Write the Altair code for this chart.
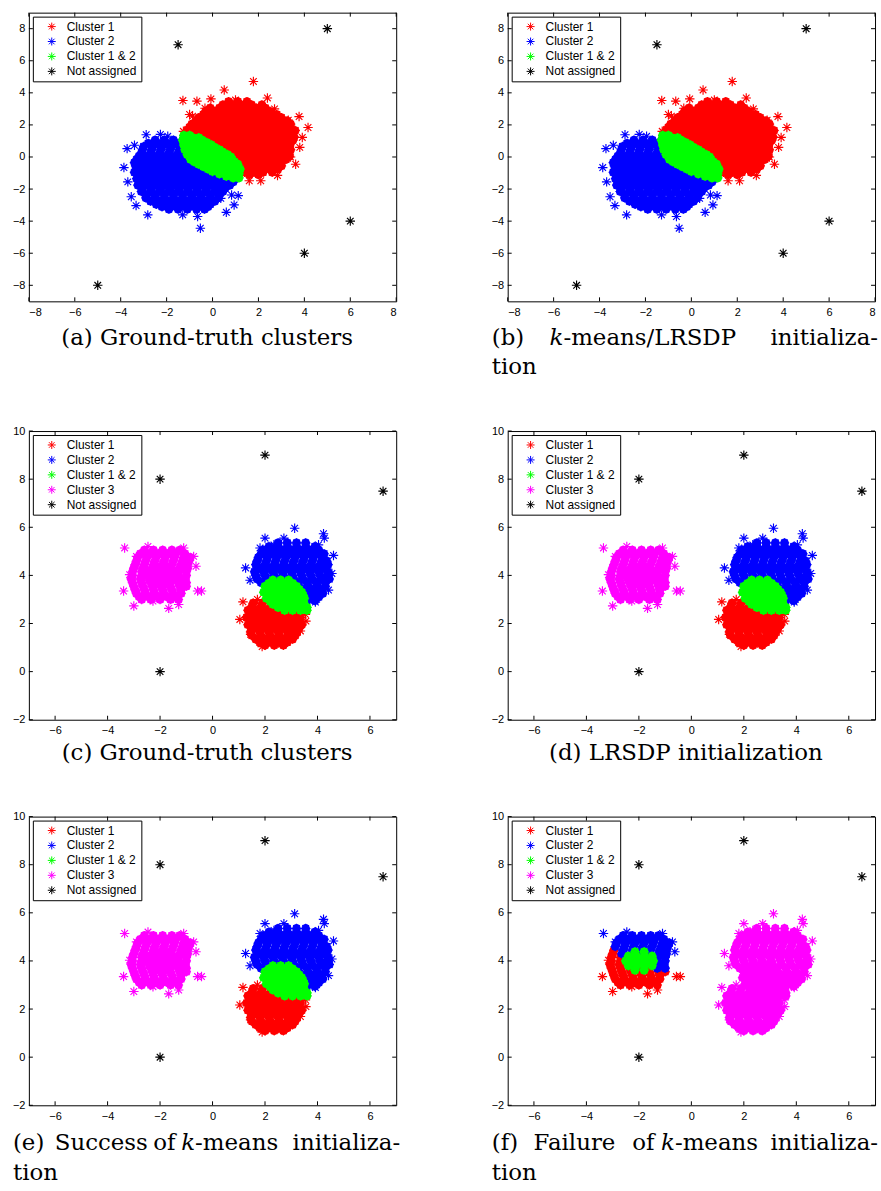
import altair as alt
import pandas as pd

# ---------------- data ----------------
# Panels (a)/(b): rows of (y, [x ...]) for the dense cores, plus outliers
A_RED_ROWS = [
    (3.45, [0.7, 1.1, 1.5]),
    (3.25, [0.45, 0.85, 1.25, 1.7, 2.15]),
    (3.05, [-0.1, 0.3, 0.7, 1.1, 1.5, 1.9, 2.3]),
    (2.85, [-0.3, 0.1, 0.5, 0.9, 1.3, 1.7, 2.1, 2.5]),
    (2.65, [-0.4, 0.0, 0.4, 0.8, 1.2, 1.6, 2.0, 2.4, 2.8]),
    (2.45, [-0.6, -0.2, 0.2, 0.6, 1.0, 1.4, 1.8, 2.2, 2.6, 3.0]),
    (2.25, [-0.7, -0.3, 0.1, 0.5, 0.9, 1.3, 1.7, 2.1, 2.5, 2.9, 3.25]),
    (2.05, [-0.9, -0.5, -0.1, 0.3, 0.7, 1.1, 1.5, 1.9, 2.3, 2.7, 3.1, 3.4]),
    (1.85, [-1.0, -0.6, -0.2, 0.2, 0.6, 1.0, 1.4, 1.8, 2.2, 2.6, 3.0, 3.4]),
    (1.65, [-1.1, -0.7, -0.3, 0.1, 0.5, 0.9, 1.3, 1.7, 2.1, 2.5, 2.9, 3.3, 3.6]),
    (1.45, [-0.9, -0.5, -0.1, 0.3, 0.7, 1.1, 1.5, 1.9, 2.3, 2.7, 3.1, 3.45]),
    (1.25, [-0.7, -0.3, 0.1, 0.5, 0.9, 1.3, 1.7, 2.1, 2.5, 2.9, 3.3, 3.55]),
    (1.05, [-0.4, 0.0, 0.4, 0.8, 1.2, 1.6, 2.0, 2.4, 2.8, 3.2, 3.5]),
    (0.85, [-0.2, 0.2, 0.6, 1.0, 1.4, 1.8, 2.2, 2.6, 3.0, 3.4]),
    (0.65, [0.0, 0.4, 0.8, 1.2, 1.6, 2.0, 2.4, 2.8, 3.2]),
    (0.45, [0.3, 0.7, 1.1, 1.5, 1.9, 2.3, 2.7, 3.1, 3.4]),
    (0.25, [0.5, 0.9, 1.3, 1.7, 2.1, 2.5, 2.9, 3.25]),
    (0.05, [0.7, 1.1, 1.5, 1.9, 2.3, 2.7, 3.1, 3.35]),
    (-0.15, [0.8, 1.2, 1.6, 2.0, 2.4, 2.8, 3.2]),
    (-0.35, [1.0, 1.4, 1.8, 2.2, 2.6, 3.0]),
    (-0.55, [1.1, 1.5, 1.9, 2.3, 2.7, 3.0]),
    (-0.75, [1.3, 1.7, 2.1, 2.5, 2.85]),
    (-0.95, [1.4, 1.8, 2.2, 2.6]),
    (-1.1, [1.6, 2.0]),
]
A_RED_OUT = [(1.78, 4.71), (0.51, 4.18), (-1.29, 3.52), (-0.68, 3.48), (-0.07, 3.62),
             (2.39, 3.68), (-1.0, 2.65), (-0.87, 2.55), (3.77, 2.52), (4.16, 1.84),
             (3.91, 1.22), (3.8, 0.6), (3.62, -0.45), (2.83, -1.15), (2.1, -1.48),
             (1.6, -1.48), (3.4, 0.0), (-1.27, 1.6), (-1.08, 1.72), (-0.33, 3.04),
             (3.3, 2.3), (2.7, 3.0), (1.0, 3.55)]
A_BLUE_ROWS = [
    (1.05, [-2.5, -2.1, -1.7, -1.3, -0.95]),
    (0.85, [-2.8, -2.4, -2.0, -1.6, -1.2, -0.85]),
    (0.65, [-3.0, -2.6, -2.2, -1.8, -1.4, -1.0]),
    (0.45, [-3.05, -2.65, -2.25, -1.85, -1.45, -1.05, -0.8]),
    (0.25, [-3.1, -2.7, -2.3, -1.9, -1.5, -1.1, -0.7]),
    (0.05, [-3.2, -2.8, -2.4, -2.0, -1.6, -1.2, -0.8, -0.45]),
    (-0.15, [-3.3, -2.9, -2.5, -2.1, -1.7, -1.3, -0.9, -0.5]),
    (-0.35, [-3.4, -3.1, -2.7, -2.3, -1.9, -1.5, -1.1, -0.7, -0.3, 0.0]),
    (-0.55, [-3.35, -2.95, -2.55, -2.15, -1.75, -1.35, -0.95, -0.55, -0.15]),
    (-0.75, [-3.2, -2.8, -2.4, -2.0, -1.6, -1.2, -0.8, -0.4, 0.0, 0.35]),
    (-0.95, [-3.4, -3.0, -2.6, -2.2, -1.8, -1.4, -1.0, -0.6, -0.2, 0.2, 0.55]),
    (-1.15, [-3.2, -2.8, -2.4, -2.0, -1.6, -1.2, -0.8, -0.4, 0.0, 0.4, 0.8]),
    (-1.35, [-3.3, -2.9, -2.5, -2.1, -1.7, -1.3, -0.9, -0.5, -0.1, 0.3, 0.7, 1.0]),
    (-1.55, [-3.1, -2.7, -2.3, -1.9, -1.5, -1.1, -0.7, -0.3, 0.1, 0.5, 0.9]),
    (-1.75, [-3.25, -2.85, -2.45, -2.05, -1.65, -1.25, -0.85, -0.45, -0.05, 0.35, 0.75]),
    (-1.95, [-3.05, -2.65, -2.25, -1.85, -1.45, -1.05, -0.65, -0.25, 0.15, 0.55]),
    (-2.15, [-3.1, -2.7, -2.3, -1.9, -1.5, -1.1, -0.7, -0.3, 0.1, 0.45]),
    (-2.35, [-2.9, -2.5, -2.1, -1.7, -1.3, -0.9, -0.5, -0.1, 0.3]),
    (-2.55, [-2.9, -2.5, -2.1, -1.7, -1.3, -0.9, -0.5, -0.1, 0.25]),
    (-2.75, [-2.7, -2.3, -1.9, -1.5, -1.1, -0.7, -0.3, 0.1]),
    (-2.95, [-2.45, -2.05, -1.65, -1.25, -0.85, -0.45, -0.1]),
    (-3.1, [-2.2, -1.8, -1.4, -1.0, -0.6, -0.2]),
    (-3.25, [-1.9, -1.5, -1.1, -0.7, -0.35]),
]
A_BLUE_OUT = [(-2.89, 1.39), (-2.27, 1.41), (-1.95, 1.29), (-3.72, 0.52), (-3.4, 0.73),
              (-3.86, -0.66), (-3.69, -1.55), (-3.54, -2.48), (-3.33, -3.03), (-2.82, -3.61),
              (-1.3, -3.61), (-0.65, -3.71), (-0.53, -4.44), (0.6, -3.45), (0.83, -2.37),
              (1.12, -2.41), (0.94, -2.99), (0.36, -2.58), (-3.1, -0.31)]
A_GREEN_ROWS = [
    (1.35, [-1.25, -1.0]),
    (1.2, [-1.15, -0.85, -0.6]),
    (1.05, [-1.3, -1.0, -0.7, -0.45]),
    (0.9, [-1.1, -0.8, -0.5, -0.25]),
    (0.75, [-1.25, -0.95, -0.65, -0.35, -0.05]),
    (0.6, [-1.1, -0.8, -0.5, -0.2, 0.1]),
    (0.45, [-1.2, -0.9, -0.6, -0.3, 0.0, 0.3]),
    (0.3, [-1.05, -0.75, -0.45, -0.15, 0.15, 0.45]),
    (0.15, [-1.1, -0.8, -0.5, -0.2, 0.1, 0.4, 0.65]),
    (0.0, [-0.85, -0.55, -0.25, 0.05, 0.35, 0.6, 0.8]),
    (-0.15, [-0.95, -0.65, -0.35, -0.05, 0.25, 0.55, 0.85]),
    (-0.3, [-0.8, -0.5, -0.2, 0.1, 0.4, 0.7, 0.95]),
    (-0.45, [-0.6, -0.3, 0.0, 0.3, 0.6, 0.9, 1.1]),
    (-0.6, [-0.4, -0.1, 0.2, 0.5, 0.8, 1.05]),
    (-0.75, [-0.2, 0.1, 0.4, 0.7, 1.0, 1.2]),
    (-0.9, [0.0, 0.3, 0.6, 0.9, 1.15]),
    (-1.05, [0.3, 0.6, 0.9, 1.15]),
    (-1.2, [0.6, 0.9, 1.1]),
    (-1.3, [0.9, 1.15]),
]
A_BLACK = [(-1.5, 7), (5, 8), (6, -4), (4, -6), (-5, -8)]

# Panels (c)-(f): left cluster (upper / lower / core parts)
L_UP_ROWS = [
    (5.05, [-2.6, -2.25, -1.9, -1.55, -1.25]),
    (4.9, [-2.75, -2.4, -2.05, -1.7, -1.4, -1.05]),
    (4.75, [-2.85, -2.5, -2.15, -1.8, -1.45, -1.1, -0.85]),
    (4.6, [-2.9, -2.55, -2.2, -1.85, -1.5, -1.15, -0.9]),
    (4.45, [-2.6, -2.25, -1.9, -1.55, -1.2, -0.95]),
    (4.3, [-2.65, -2.3, -1.95, -1.6, -1.25, -0.95]),
    (4.15, [-1.3, -1.0]),
    (4.0, [-1.3, -1.0]),
    (3.85, [-1.35, -1.05]),
    (3.7, [-1.3, -1.0]),
]
L_UP_OUT = [(-3.35, 5.14), (-2.46, 5.2), (-1.1, 5.14), (-0.72, 4.79), (-0.63, 4.38), (-2.9, 4.79)]
L_LOW_ROWS = [
    (4.45, [-2.95]),
    (4.3, [-3.0]),
    (4.15, [-3.05, -2.7, -2.35, -2.0, -1.65]),
    (4.0, [-3.05, -2.7, -2.35, -2.0, -1.65]),
    (3.85, [-3.1, -2.75, -2.4, -2.05, -1.7]),
    (3.7, [-3.05, -2.7, -2.35, -2.0, -1.65]),
    (3.55, [-3.0, -2.65, -2.3, -1.95, -1.6, -1.25, -1.0]),
    (3.4, [-2.95, -2.6, -2.25, -1.9, -1.55, -1.2]),
    (3.25, [-2.9, -2.55, -2.2, -1.85, -1.5, -1.2]),
    (3.12, [-2.8, -2.45, -2.1, -1.75, -1.4]),
    (3.0, [-2.7, -2.35, -2.0, -1.6, -1.3]),
]
L_LOW_OUT = [(-3.39, 3.35), (-3.0, 2.73), (-2.27, 2.93), (-1.67, 2.63), (-1.29, 2.79),
             (-0.57, 3.35), (-0.42, 3.35), (-3.16, 4.03)]
L_CORE_ROWS = [
    (4.38, [-2.15, -1.8]),
    (4.2, [-2.4, -2.1, -1.8, -1.5]),
    (4.0, [-2.5, -2.2, -1.95, -1.7, -1.45]),
    (3.8, [-2.4, -2.1, -1.8, -1.5]),
    (3.62, [-2.15, -1.8]),
]
# right clusters
C_BLUE_ROWS = [
    (5.35, [2.5, 2.85, 3.2, 3.55]),
    (5.2, [2.15, 2.5, 2.85, 3.2, 3.55, 3.9]),
    (5.05, [1.95, 2.3, 2.65, 3.0, 3.35, 3.7, 4.05]),
    (4.9, [1.85, 2.2, 2.55, 2.9, 3.25, 3.6, 3.95, 4.25]),
    (4.75, [1.75, 2.1, 2.45, 2.8, 3.15, 3.5, 3.85, 4.2]),
    (4.6, [1.7, 2.05, 2.4, 2.75, 3.1, 3.45, 3.8, 4.15, 4.35]),
    (4.45, [1.65, 2.0, 2.35, 2.7, 3.05, 3.4, 3.75, 4.1, 4.4]),
    (4.3, [1.8, 2.15, 2.5, 2.85, 3.2, 3.55, 3.9, 4.25]),
    (4.15, [1.6, 1.95, 2.3, 2.65, 3.0, 3.35, 3.7, 4.05, 4.4]),
    (4.0, [1.65, 2.0, 2.35, 2.7, 3.05, 3.4, 3.75, 4.1, 4.4]),
    (3.85, [1.7, 2.05, 2.4, 2.75, 3.1, 3.45, 3.8, 4.15, 4.45]),
    (3.7, [1.85, 2.2, 2.55, 2.9, 3.25, 3.6, 3.95, 4.3]),
    (3.55, [2.6, 2.95, 3.3, 3.65, 4.0, 4.3]),
    (3.4, [3.1, 3.45, 3.8, 4.1]),
    (3.25, [3.3, 3.6, 3.9, 4.2]),
    (3.1, [3.5, 3.8, 4.05]),
    (2.95, [3.6, 3.9]),
]
C_BLUE_OUT = [(3.13, 5.96), (4.23, 5.73), (4.26, 5.55), (2.0, 5.55), (1.81, 5.14), (1.26, 4.31),
              (1.43, 3.8), (4.61, 4.83), (4.55, 4.08), (4.42, 3.39), (3.92, 2.89), (4.04, 5.27),
              (2.72, 5.55), (2.34, 5.27)]
C_RED_ROWS = [
    (2.85, [1.55, 1.9, 2.25]),
    (2.7, [1.5, 1.85, 2.2, 2.55]),
    (2.55, [1.35, 1.7, 2.05, 2.4, 2.75, 3.1]),
    (2.4, [1.45, 1.8, 2.15, 2.5, 2.85, 3.2]),
    (2.25, [1.3, 1.65, 2.0, 2.35, 2.7, 3.05, 3.35]),
    (2.1, [1.5, 1.85, 2.2, 2.55, 2.9, 3.25]),
    (1.95, [1.35, 1.7, 2.05, 2.4, 2.75, 3.1, 3.4]),
    (1.8, [1.55, 1.9, 2.25, 2.6, 2.95, 3.3]),
    (1.65, [1.45, 1.8, 2.15, 2.5, 2.85, 3.2]),
    (1.5, [1.5, 1.85, 2.2, 2.55, 2.9, 3.15]),
    (1.35, [1.65, 2.0, 2.35, 2.7, 3.05]),
    (1.22, [1.8, 2.15, 2.5, 2.85]),
    (1.1, [2.0, 2.35, 2.7]),
]
C_RED_OUT = [(1.04, 2.17), (1.16, 2.9), (1.71, 3.0), (1.89, 1.04), (2.63, 1.14), (3.56, 2.1),
             (3.54, 2.38), (3.35, 1.69), (1.45, 1.55), (3.03, 1.42)]
C_GREEN_ROWS = [
    (3.8, [2.3, 2.6, 2.9]),
    (3.67, [2.15, 2.45, 2.75, 3.05]),
    (3.55, [2.0, 2.3, 2.6, 2.9, 3.2]),
    (3.42, [2.1, 2.4, 2.7, 3.0, 3.3]),
    (3.3, [1.95, 2.25, 2.55, 2.85, 3.15, 3.4]),
    (3.17, [2.1, 2.4, 2.7, 3.0, 3.3, 3.45]),
    (3.05, [2.05, 2.35, 2.65, 2.95, 3.25, 3.5]),
    (2.92, [2.2, 2.5, 2.8, 3.1, 3.4]),
    (2.8, [2.3, 2.6, 2.9, 3.2, 3.5]),
    (2.67, [2.5, 2.8, 3.1, 3.4, 3.6]),
    (2.55, [2.75, 3.05, 3.35, 3.6]),
]
C_BLACK = [(-2, 8), (2, 9), (6.5, 7.5), (-2, 0)]

LABELS_AB = ["Cluster 1", "Cluster 2", "Cluster 1 & 2", "Not assigned"]
COLORS_AB = ["#ff0000", "#0000ff", "#00ff00", "#000000"]
LABELS_CF = ["Cluster 1", "Cluster 2", "Cluster 1 & 2", "Cluster 3", "Not assigned"]
COLORS_CF = ["#ff0000", "#0000ff", "#00ff00", "#ff00ff", "#000000"]

XT_A = [-8, -6, -4, -2, 0, 2, 4, 6, 8]
YT_A = [-8, -6, -4, -2, 0, 2, 4, 6, 8]
XT_C = [-6, -4, -2, 0, 2, 4, 6]
YT_C = [-2, 0, 2, 4, 6, 8, 10]

# ---------------- helpers ----------------
STAR = "M-1,0L1,0M0,-1L0,1M-0.7,-0.7L0.7,0.7M-0.7,0.7L0.7,-0.7"
W, H = 369, 290
FONT = "Liberation Sans"
SERIF = "DejaVu Serif"
CAP = 23


def expand(rows):
    return [(x, y) for y, xs in rows for x in xs]


def caption(text, x, y, align="left", italic=False):
    return alt.Chart(pd.DataFrame({"t": [text]})).mark_text(
        align=align, baseline="alphabetic", font=SERIF, fontSize=CAP,
        fontStyle="italic" if italic else "normal", color="black",
    ).encode(x=alt.value(x), y=alt.value(y), text="t:N")


def panel(groups, xdom, ydom, xt, yt, domain, colors, caps):
    common = dict(title=None, ticks=False, grid=False, domain=False, labelFont=FONT,
                  labelFontSize=11, labelColor="black", format="d")
    xax = alt.Axis(values=xt, labelPadding=5, **common)
    yax = alt.Axis(values=yt, labelPadding=4, **common)
    xs = alt.Scale(domain=xdom, nice=False, zero=False)
    ys = alt.Scale(domain=ydom, nice=False, zero=False)
    cs = alt.Scale(domain=domain, range=colors)
    leg = alt.Legend(
        title=None, orient="top-left", offset=4, padding=4,
        strokeColor="black", fillColor="white",
        symbolType=STAR, symbolSize=64, symbolStrokeWidth=1,
        symbolOffset=9, labelOffset=9, labelFont=FONT,
        labelFontSize=12, labelColor="black", rowPadding=3, labelLimit=0)
    layers = []
    for lab, core, outs in groups:
        col = colors[domain.index(lab)]
        if core:
            cdf = pd.DataFrame(core, columns=["x", "y"])
            layers.append(alt.Chart(cdf).mark_circle(color=col, size=76, opacity=1).encode(
                x=alt.X("x:Q", scale=xs, axis=xax), y=alt.Y("y:Q", scale=ys, axis=yax)))
        sdf = pd.DataFrame(core + outs, columns=["x", "y"])
        sdf["label"] = lab
        layers.append(alt.Chart(sdf).mark_point(
            shape=STAR, filled=False, size=90, strokeWidth=1.15, opacity=1
        ).encode(
            x=alt.X("x:Q", scale=xs, axis=xax),
            y=alt.Y("y:Q", scale=ys, axis=yax),
            color=alt.Color("label:N", scale=cs, legend=leg),
        ))
    xtd = pd.DataFrame({"x": xt})
    ytd = pd.DataFrame({"y": yt})
    tick = dict(color="black", strokeWidth=1)
    layers += [
        alt.Chart(xtd).mark_rule(**tick).encode(
            x=alt.X("x:Q", scale=xs, axis=xax), y=alt.value(H), y2=alt.value(H - 4)),
        alt.Chart(xtd).mark_rule(**tick).encode(
            x=alt.X("x:Q", scale=xs, axis=xax), y=alt.value(0), y2=alt.value(4)),
        alt.Chart(ytd).mark_rule(**tick).encode(
            y=alt.Y("y:Q", scale=ys, axis=yax), x=alt.value(0), x2=alt.value(4)),
        alt.Chart(ytd).mark_rule(**tick).encode(
            y=alt.Y("y:Q", scale=ys, axis=yax), x=alt.value(W), x2=alt.value(W - 4)),
    ]
    layers += [caption(*c) for c in caps]
    return alt.layer(*layers).properties(width=W, height=H)


# ---------------- panels ----------------
a_groups = [
    ("Cluster 1", expand(A_RED_ROWS), A_RED_OUT),
    ("Cluster 2", expand(A_BLUE_ROWS), A_BLUE_OUT),
    ("Cluster 1 & 2", expand(A_GREEN_ROWS), []),
    ("Not assigned", [], A_BLACK),
]
cde_groups = [
    ("Cluster 3", expand(L_UP_ROWS) + expand(L_LOW_ROWS) + expand(L_CORE_ROWS), L_UP_OUT + L_LOW_OUT),
    ("Cluster 1", expand(C_RED_ROWS), C_RED_OUT),
    ("Cluster 2", expand(C_BLUE_ROWS), C_BLUE_OUT),
    ("Cluster 1 & 2", expand(C_GREEN_ROWS), []),
    ("Not assigned", [], C_BLACK),
]
f_groups = [
    ("Cluster 1", expand(L_LOW_ROWS), L_LOW_OUT),
    ("Cluster 2", expand(L_UP_ROWS), L_UP_OUT),
    ("Cluster 1 & 2", expand(L_CORE_ROWS), []),
    ("Cluster 3", expand(C_RED_ROWS) + expand(C_BLUE_ROWS) + expand(C_GREEN_ROWS), C_RED_OUT + C_BLUE_OUT),
    ("Not assigned", [], C_BLACK),
]

L1, L2 = H + 44, H + 73
pa = panel(a_groups, [-8, 8], [-9, 9], XT_A, YT_A, LABELS_AB, COLORS_AB,
           [("(a) Ground-truth clusters", 179, L1, "center")])
pb = panel(a_groups, [-8, 8], [-9, 9], XT_A, YT_A, LABELS_AB, COLORS_AB,
           [("(b)", -16, L1), ("k", 56, L1, "right", True), ("-means/LRSDP", 56, L1),
            ("initializa-", 372, L1, "right"), ("tion", -16, L2)])
K1 = H + 40.5
pc = panel(cde_groups, [-7, 7], [-2, 10], XT_C, YT_C, LABELS_CF, COLORS_CF,
           [("(c) Ground-truth clusters", 179, K1, "center")])
pd_ = panel(cde_groups, [-7, 7], [-2, 10], XT_C, YT_C, LABELS_CF, COLORS_CF,
            [("(d) LRSDP initialization", 179, K1, "center")])
M1, M2 = H + 45, H + 75
pe = panel(cde_groups, [-7, 7], [-2, 10], XT_C, YT_C, LABELS_CF, COLORS_CF,
           [("(e)", -16, M1), ("Success", 26, M1), ("of", 125, M1),
            ("k", 167, M1, "right", True), ("-means", 167, M1),
            ("initializa-", 373, M1, "right"), ("tion", -16, M2)])
pf = panel(f_groups, [-7, 7], [-2, 10], XT_C, YT_C, LABELS_CF, COLORS_CF,
           [("(f)", -16, M1), ("Failure", 26, M1), ("of", 125, M1),
            ("k", 168, M1, "right", True), ("-means", 168, M1),
            ("initializa-", 372, M1, "right"), ("tion", -16, M2)])

chart = alt.concat(
    pa, pb, pc, pd_, pe, pf, columns=2, align="each",
    spacing={"row": 44.3, "column": 89},
).resolve_scale(
    x="independent", y="independent", color="independent"
).resolve_legend(color="independent").properties(
    padding={"left": 11, "top": 9, "right": 2, "bottom": 2}, background="white"
).configure_view(stroke="black", strokeWidth=1)

chart.save("out.html", embed_options={"renderer": "svg", "actions": False})
